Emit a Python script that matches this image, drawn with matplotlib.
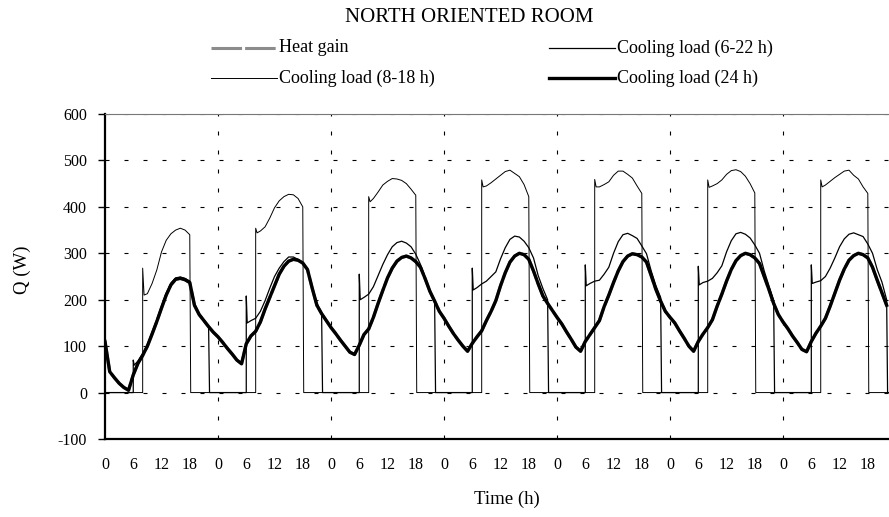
import numpy as np
import matplotlib.pyplot as plt
from matplotlib.lines import Line2D

plt.rcParams['font.family'] = ['Liberation Serif', 'DejaVu Serif']
plt.rcParams['axes.unicode_minus'] = False

# cooling load with 24 h operation, one value per hour (h 0 .. 166)
load_24h = [
    110, 45, 32, 20, 11, 5, 38, 63, 80, 100, 126, 153, 182, 210, 232, 244, 246, 243, 237, 188, 168, 155, 142, 130,
    120, 108, 95, 83, 70, 62, 105, 122, 132, 152, 180, 205, 230, 255, 272, 283, 287, 285, 279, 265, 225, 188, 170, 155,
    140, 127, 113, 100, 87, 82, 102, 125, 137, 162, 192, 220, 247, 268, 283, 291, 294, 290, 282, 270, 245, 218, 197, 175,
    160, 143, 127, 113, 100, 89, 106, 120, 133, 155, 175, 198, 230, 258, 281, 294, 300, 297, 287, 262, 234, 208, 192, 177,
    162, 148, 131, 115, 98, 89, 110, 125, 140, 155, 185, 210, 237, 262, 282, 294, 299, 297, 292, 281, 252, 222, 197, 175,
    162, 150, 133, 117, 100, 89, 110, 126, 140, 157, 186, 212, 240, 265, 284, 295, 300, 297, 290, 278, 250, 222, 192, 168,
    152, 138, 122, 108, 93, 88, 110, 128, 143, 160, 186, 214, 242, 266, 285, 295, 300, 297, 290, 270, 242, 215, 188,
]
# heat gain is not told apart from the 24 h load in the picture (it lies under it)
heat_gain = list(load_24h)

# cooling load, plant on 6-22 h (hours of day, one row per day)
hours_6_22 = [6, 6.2, 7, 8, 9, 10, 11, 12, 13, 14, 15, 16, 17, 18, 19, 20, 21, 22]
load_6_22 = [
    [70, 59, 68, 84, 104, 130, 157, 186, 214, 236, 247, 249, 246, 240, 192, 170, 157, 142],
    [208, 150, 155, 160, 175, 198, 225, 250, 268, 282, 292, 292, 287, 280, 266, 228, 192, 172],
    [255, 200, 205, 212, 228, 252, 276, 297, 314, 323, 326, 322, 314, 298, 276, 248, 220, 199],
    [268, 221, 226, 234, 240, 250, 260, 288, 312, 330, 337, 335, 326, 312, 290, 252, 224, 200],
    [275, 230, 235, 240, 242, 255, 270, 300, 325, 340, 343, 338, 332, 316, 299, 262, 230, 205],
    [272, 232, 237, 240, 246, 258, 273, 303, 327, 342, 345, 341, 333, 318, 300, 262, 230, 198],
    [275, 235, 238, 241, 250, 268, 290, 314, 331, 341, 344, 340, 336, 320, 300, 265, 238, 200],
]

# cooling load, plant on 8-18 h
hours_8_18 = [8, 8.3, 9, 10, 11, 12, 13, 14, 15, 16, 17, 18]
load_8_18 = [
    [268, 210, 213, 235, 264, 303, 328, 342, 350, 354, 350, 340],
    [354, 344, 348, 357, 376, 398, 413, 422, 427, 426, 418, 400],
    [422, 411, 418, 432, 447, 455, 461, 460, 457, 450, 438, 425],
    [458, 443, 445, 452, 460, 468, 476, 479, 472, 465, 448, 422],
    [459, 443, 443, 448, 454, 468, 477, 477, 470, 462, 445, 429],
    [458, 442, 445, 450, 458, 470, 478, 480, 476, 466, 450, 430],
    [458, 443, 447, 455, 463, 470, 477, 479, 468, 460, 443, 429],
]

t_end = 166.5


def intermittent(hours, days):
    t, q = [0.0], [0.0]
    for d, vals in enumerate(days):
        t += [d * 24 + hours[0]] + [d * 24 + h for h in hours] + [d * 24 + hours[-1] + 0.2]
        q += [0] + vals + [0]
    t.append(t_end)
    q.append(0)
    return np.array(t), np.array(q)


t24 = np.arange(len(load_24h))
t_a, q_a = intermittent(hours_6_22, load_6_22)
t_b, q_b = intermittent(hours_8_18, load_8_18)

fig = plt.figure(figsize=(8.89, 5.17), dpi=100)
ax = fig.add_axes([105 / 889, 1 - 439 / 517, (889 - 105) / 889, (439 - 114) / 517])

grid = dict(color='black', lw=0.8, ls=(0, (3.6, 13.5)), zorder=1)
for y in range(0, 601, 100):
    ax.axhline(y, **grid)
for d in range(1, 7):
    ax.axvline(d * 24, **grid)

hg_style = dict(color='#8c8c8c', lw=2.2, ls=(0, (10, 1)))
a_style = dict(color='black', lw=0.9)
b_style = dict(color='black', lw=0.7)
c_style = dict(color='black', lw=2.4)

ax.plot(t24, heat_gain, zorder=2, **hg_style)
ax.plot(t_b, q_b, zorder=3, **b_style)
ax.plot(t_a, q_a, zorder=3, **a_style)
ax.plot(t24, load_24h, zorder=4, **c_style)

ax.set_xlim(0, t_end)
ax.set_ylim(-100, 600)

xt = np.arange(0, 163, 6)
ax.set_xticks(xt)
ax.set_xticklabels([str(int(h % 24)) for h in xt])
ax.set_xticks(np.arange(0, 167, 24), minor=True)
ax.tick_params(axis='x', which='major', length=0, pad=13, labelsize=11.5)
ax.tick_params(axis='x', which='minor', length=5, width=1, direction='out')
ax.set_yticks(range(-100, 601, 100))
ax.tick_params(axis='y', length=5, width=1, direction='out', pad=8, labelsize=11.5)

ax.spines['right'].set_visible(False)
ax.spines['top'].set_color('#777777')
ax.spines['top'].set_linewidth(0.8)
ax.spines['left'].set_linewidth(1.6)
ax.spines['bottom'].set_linewidth(1.6)

fig.text(469 / 889, 1 - 18 / 517, 'NORTH ORIENTED ROOM', ha='center', va='center', fontsize=15)
fig.text(507 / 889, 1 - 499 / 517, 'Time (h)', ha='center', va='center', fontsize=13.5)
fig.text(22 / 889, 1 - 270 / 517, 'Q (W)', ha='center', va='center', rotation=90, fontsize=13.5)

# legend
rows = [1 - 48 / 517, 1 - 78 / 517]
entries = [
    (211, rows[0], hg_style, 'Heat gain'),
    (211, rows[1], b_style, 'Cooling load (8-18 h)'),
    (549, rows[0], a_style, 'Cooling load (6-22 h)'),
    (549, rows[1], c_style, 'Cooling load (24 h)'),
]
for x0, y0, st, label in entries:
    fig.add_artist(Line2D([x0 / 889, (x0 + 66) / 889], [y0, y0], transform=fig.transFigure, **st))
    fig.text((x0 + 68) / 889, y0, label, ha='left', va='center', fontsize=13)

fig.savefig('out.png', dpi=100)
